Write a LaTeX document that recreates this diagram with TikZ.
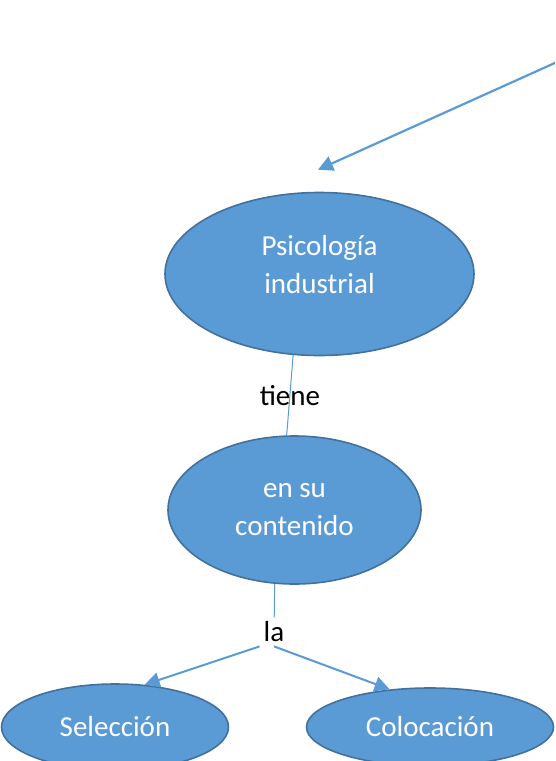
\documentclass[tikz,border=0pt]{standalone}
\usepackage{fontspec}
\setmainfont{Carlito}
\usepackage{tikz}
\usetikzlibrary{positioning,arrows.meta,calc,shapes.geometric}
\definecolor{offblue}{HTML}{5B9BD5}
\definecolor{offedge}{HTML}{41719C}

\begin{document}
\begin{tikzpicture}[x=1pt,y=-1pt,
  concept/.style={ellipse,draw=offedge,line width=1.6pt,fill=offblue,text=white,
    inner sep=0pt,align=center,font=\fontsize{29}{38}\selectfont},
  word/.style={text=black,inner sep=4pt,font=\fontsize{29}{38}\selectfont},
  rel/.style={color=offblue,line width=1pt},
  relarrow/.style={color=offblue,line width=2.2pt,-{Triangle[length=15pt,width=15pt]}}]

  \path[use as bounding box,fill=white] (0,0) rectangle (555,761);
  \clip (0,0) rectangle (555,761);

  \coordinate (src) at (557,62);
  \node[concept,minimum width=309pt,minimum height=163pt,text depth=19pt] (psi) at (319.5,274) {Psicología\\industrial};
  \node[concept,minimum width=253pt,minimum height=148pt] (cont) at (294.5,510) {en su\\contenido};
  \node[word] (la) at (274,632) {la};
  \node[concept,minimum width=227pt,minimum height=86pt] (sel) at (115,727) {Selección};
  \node[concept,minimum width=247pt,minimum height=78pt] (col) at (430,727) {Colocación};

  \path[relarrow] (src) edge ($(psi.north)+(-1.5,-22)$);
  \path[rel] (psi.252) edge node[word] {tiene} (cont.96);
  \path[rel] (cont.255) edge (la);
  \path[relarrow,line width=2pt] (la.south west) edge (sel.55);
  \path[relarrow,line width=2pt] (la.south) edge (col.137);

\end{tikzpicture}
\end{document}
